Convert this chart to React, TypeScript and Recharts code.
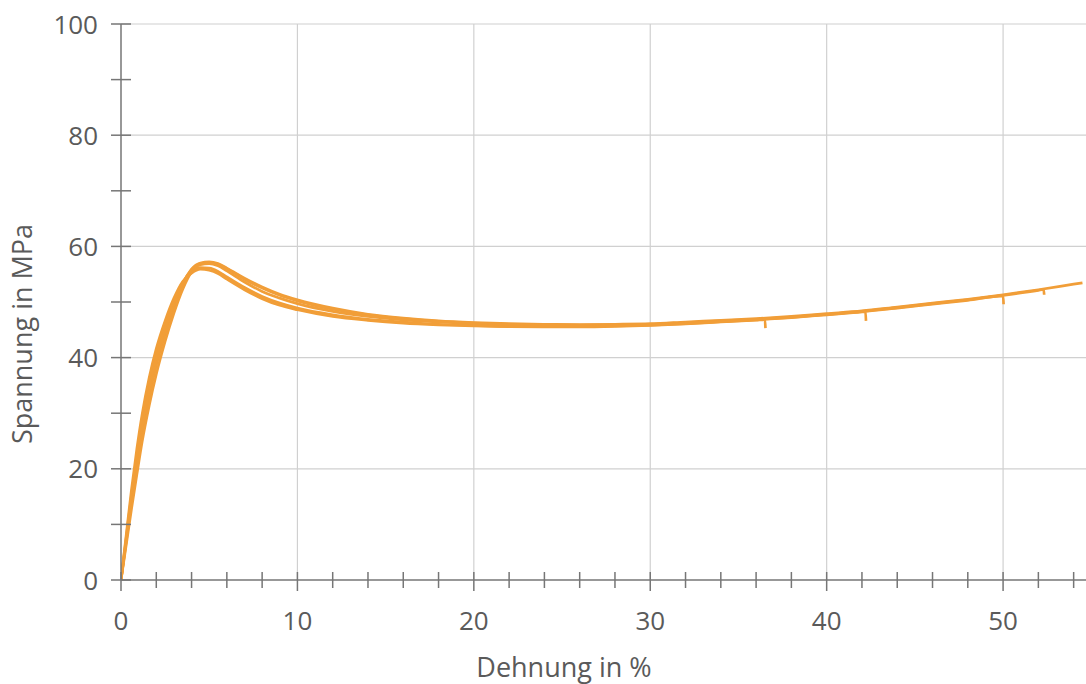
import React from 'react';
import { LineChart, Line, XAxis, YAxis, ReferenceLine, Label } from 'recharts';

// Shared strain sample points (Dehnung in %)
const strainPts = [0, 0.3, 0.6, 0.9, 1.2, 1.6, 2.0, 2.5, 3.0, 3.5, 4.0, 4.5, 5.0, 5.5, 6.0, 7.0, 8.0, 9.0, 10, 12, 14, 16, 18, 20, 22, 24, 26, 28, 30, 32, 34, 36, 38, 40, 42, 44, 46, 48, 50, 52, 54];

// Stress (Spannung in MPa) per specimen, sampled at strainPts until break
const stressS1 = [0, 7.0, 14.0, 20.4, 26.4, 33.0, 38.6, 44.2, 49.0, 53.1, 55.9, 57.0, 57.2, 56.9, 56.1, 54.3, 52.7, 51.4, 50.4, 48.9, 47.8, 47.1, 46.6, 46.3, 46.1, 46.0, 45.95, 46.0, 46.1, 46.4, 46.7, 47.0, 47.4, 47.9, 48.4, 49.1, 49.8, 50.5, 51.3, 52.2, 53.2];
const stressS2 = [0, 7.3, 14.6, 21.2, 27.3, 33.9, 39.4, 44.9, 49.6, 53.4, 55.8, 56.9, 57.1, 56.8, 56.0, 54.1, 52.5, 51.2, 50.2, 48.7, 47.7, 47.0, 46.5, 46.2, 46.0, 45.9, 45.85, 45.9, 46.0, 46.3, 46.6, 46.9, 47.3, 47.8, 48.3, 49.0, 49.7, 50.4, 51.2, 52.1];
const stressS3 = [0, 6.4, 12.9, 19.0, 24.9, 31.4, 37.0, 42.9, 48.0, 52.3, 55.4, 56.7, 56.9, 56.5, 55.6, 53.6, 51.9, 50.7, 49.7, 48.3, 47.4, 46.8, 46.4, 46.1, 45.9, 45.8, 45.75, 45.8, 45.95, 46.2, 46.5, 46.85, 47.25, 47.75, 48.25, 48.9, 49.6, 50.3];
const stressS4 = [0, 7.7, 15.4, 22.2, 28.3, 34.9, 40.3, 45.6, 50.1, 53.5, 55.4, 56.2, 56.1, 55.5, 54.5, 52.6, 51.0, 49.8, 48.9, 47.7, 46.9, 46.4, 46.0, 45.8, 45.6, 45.6, 45.6, 45.7, 45.85, 46.1, 46.45, 46.8, 47.2, 47.7, 48.2];
const stressS5 = [0, 8.2, 16.4, 23.6, 29.8, 36.4, 41.6, 46.6, 50.7, 53.7, 55.2, 55.9, 55.7, 55.1, 54.1, 52.2, 50.6, 49.4, 48.6, 47.4, 46.7, 46.2, 45.9, 45.7, 45.55, 45.5, 45.5, 45.6, 45.8, 46.05, 46.4, 46.75];

// Break points of each specimen: last strain/stress and the small drop after it
const breakStrain = [54.5, 52.3, 50.0, 42.2, 36.5];
const breakStress = [53.45, 52.25, 51.1, 48.25, 46.85];
const dropStrain = [null, 52.33, 50.03, 42.23, 36.53];
const dropStress = [null, 51.3, 49.6, 46.6, 45.3];

const xTicks = [0, 2, 4, 6, 8, 10, 12, 14, 16, 18, 20, 22, 24, 26, 28, 30, 32, 34, 36, 38, 40, 42, 44, 46, 48, 50, 52, 54];
const xMajor = [0, 10, 20, 30, 40, 50];
const xGrid = [10, 20, 30, 40, 50];
const yTicks = [0, 10, 20, 30, 40, 50, 60, 70, 80, 90, 100];
const yMajor = [0, 20, 40, 60, 80, 100];
const yGrid = [20, 40, 60, 80, 100];

const specimens = [stressS1, stressS2, stressS3, stressS4, stressS5];

function buildSeries(stress: number[], i: number) {
  const pts: { x: number; y: number }[] = stress.map((s, k) => ({ x: strainPts[k], y: s }));
  pts.push({ x: breakStrain[i], y: breakStress[i] });
  const ds = dropStrain[i];
  const dv = dropStress[i];
  if (ds != null && dv != null) pts.push({ x: ds, y: dv });
  return pts;
}

const series = specimens.map((s, i) => buildSeries(s, i));

const FONT = '"Open Sans", "Noto Sans", sans-serif';
const TEXT = '#5a5a5a';
const AXIS = '#767676';
const GRID = '#d0d0d0';
const CURVE = '#F19E38';

const XTick = (props: any) => {
  const { x, y, payload } = props;
  const major = xMajor.includes(payload.value);
  return (
    <g>
      <line x1={x} x2={x} y1={y - 8} y2={y + (major ? 11 : 8)} stroke={AXIS} strokeWidth={1.5} />
      {major && (
        <text x={x} y={y + 50} textAnchor="middle" fill={TEXT} fontSize={26} fontFamily={FONT}>
          {payload.value}
        </text>
      )}
    </g>
  );
};

const YTick = (props: any) => {
  const { x, y, payload } = props;
  const major = yMajor.includes(payload.value);
  return (
    <g>
      <line x1={x - 10} x2={x + 10} y1={y} y2={y} stroke={AXIS} strokeWidth={1.5} />
      {major && (
        <text x={x - 23} y={y + 9.5} textAnchor="end" fill={TEXT} fontSize={26} fontFamily={FONT}>
          {payload.value}
        </text>
      )}
    </g>
  );
};

export default function App() {
  return (
    <div style={{ position: 'absolute', left: 0, top: 0, background: '#fff' }}>
      <LineChart width={1086} height={684} margin={{ top: 24, right: 0, bottom: 0, left: 0 }}>
        {xGrid.map((v) => (
          <ReferenceLine key={'gx' + v} x={v} stroke={GRID} strokeWidth={1.2} />
        ))}
        {yGrid.map((v) => (
          <ReferenceLine key={'gy' + v} y={v} stroke={GRID} strokeWidth={1.2} />
        ))}
        <XAxis
          type="number"
          dataKey="x"
          domain={[0, 54.7]}
          allowDataOverflow
          ticks={xTicks}
          interval={0}
          height={104}
          tickSize={0}
          tickMargin={0}
          tickLine={false}
          axisLine={{ stroke: AXIS, strokeWidth: 1.5 }}
          tick={<XTick />}
        >
          <Label
            content={(p: any) => (
              <text
                x={p.viewBox.x + 443}
                y={p.viewBox.y + 97}
                textAnchor="middle"
                fill={TEXT}
                fontSize={27}
                fontFamily={FONT}
              >
                Dehnung in %
              </text>
            )}
          />
        </XAxis>
        <YAxis
          type="number"
          dataKey="y"
          domain={[0, 100]}
          ticks={yTicks}
          interval={0}
          width={121}
          tickSize={0}
          tickMargin={0}
          tickLine={false}
          axisLine={{ stroke: AXIS, strokeWidth: 1.5 }}
          tick={<YTick />}
        >
          <Label
            content={(p: any) => {
              const cx = p.viewBox.x + 32;
              const cy = p.viewBox.y + 310;
              return (
                <text
                  x={cx}
                  y={cy}
                  transform={`rotate(-90 ${cx} ${cy})`}
                  textAnchor="middle"
                  fill={TEXT}
                  fontSize={27}
                  fontFamily={FONT}
                >
                  Spannung in MPa
                </text>
              );
            }}
          />
        </YAxis>
        {series.map((d, i) => (
          <Line
            key={'s' + i}
            data={d}
            dataKey="y"
            type="monotone"
            stroke={CURVE}
            strokeWidth={2.7}
            dot={false}
            activeDot={false}
            isAnimationActive={false}
          />
        ))}
      </LineChart>
    </div>
  );
}
